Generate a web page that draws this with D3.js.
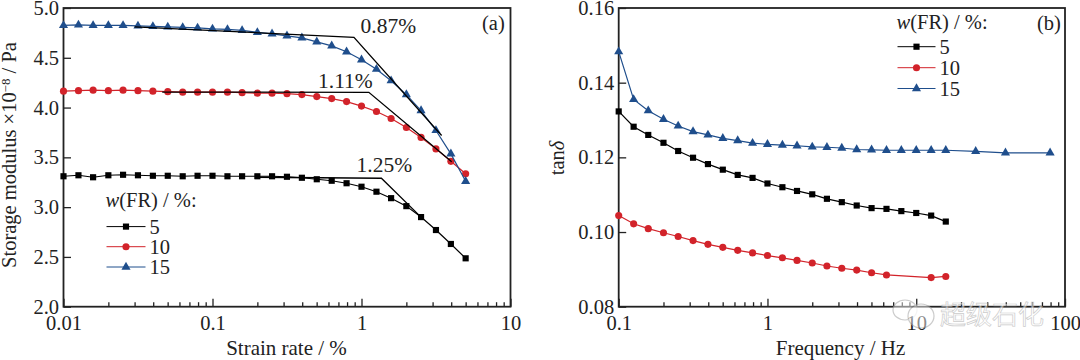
<!DOCTYPE html>
<html>
<head>
<meta charset="utf-8">
<script src="https://cdn.jsdelivr.net/npm/d3@7"></script>
<style>
    html, body { margin: 0; padding: 0; background: #fff; }
    svg { display: block; }
    text { font-family: "Liberation Serif", serif; fill: #222; }
</style>
</head>
<body>
<div id="chart"></div>
<script>
// (a) strain sweep, 28 points
var strain = [0.01, 0.0126, 0.0158, 0.02, 0.0251, 0.0316, 0.0398, 0.0501, 0.0631, 0.0794,
    0.1, 0.126, 0.158, 0.2, 0.251, 0.316, 0.398, 0.501, 0.631, 0.794,
    1, 1.26, 1.58, 2, 2.51, 3.16, 3.98, 5];
var modulus5 = [3.31, 3.32, 3.30, 3.32, 3.325, 3.32, 3.315, 3.315, 3.31, 3.315,
    3.315, 3.31, 3.31, 3.31, 3.31, 3.305, 3.295, 3.28, 3.265, 3.24,
    3.205, 3.155, 3.09, 3.01, 2.90, 2.77, 2.63, 2.486];
var modulus10 = [4.165, 4.17, 4.175, 4.17, 4.175, 4.17, 4.165, 4.16, 4.155, 4.155,
    4.155, 4.155, 4.15, 4.145, 4.145, 4.14, 4.13, 4.11, 4.09, 4.06,
    4.015, 3.96, 3.89, 3.80, 3.70, 3.585, 3.46, 3.335];
var modulus15 = [4.825, 4.83, 4.825, 4.825, 4.825, 4.82, 4.815, 4.81, 4.805, 4.80,
    4.79, 4.785, 4.775, 4.755, 4.74, 4.72, 4.70, 4.66, 4.62, 4.56,
    4.48, 4.385, 4.27, 4.13, 3.97, 3.77, 3.535, 3.26];

// black tangent lines, [strain, modulus]
var tangent087 = [[0.03, 4.81], [0.89, 4.705], [3.45, 3.72]];
var tangent111 = [[0.046, 4.155], [1.12, 4.153], [4.03, 3.456]];
var tangent125 = [[0.2, 3.30], [1.36, 3.29], [2.51, 2.90]];

// (b) frequency sweep
var freq = [0.1, 0.126, 0.158, 0.2, 0.251, 0.316, 0.398, 0.501, 0.631, 0.794,
    1, 1.26, 1.58, 2, 2.51, 3.16, 3.98, 5.01, 6.31, 7.94,
    10, 12.6, 15.8];
var tan5 = [0.1323, 0.1282, 0.1260, 0.1239, 0.1217, 0.1199, 0.1182, 0.1167, 0.1153, 0.1145,
    0.1130, 0.1120, 0.1110, 0.1101, 0.1089, 0.1080, 0.1071, 0.1064, 0.1062, 0.1056,
    0.1051, 0.1044, 0.1028];
var freq10 = [0.1, 0.126, 0.158, 0.2, 0.251, 0.316, 0.398, 0.501, 0.631, 0.794,
    1, 1.26, 1.58, 2, 2.51, 3.16, 3.98, 5.01, 6.31, 12.6, 15.8];
var tan10 = [0.1044, 0.1022, 0.1009, 0.0998, 0.0988, 0.0977, 0.0967, 0.0959, 0.0951, 0.0944,
    0.0937, 0.0931, 0.0924, 0.0917, 0.0909, 0.0903, 0.0898, 0.0891, 0.0885, 0.0878, 0.0881];
var freq15 = [0.1, 0.126, 0.158, 0.2, 0.251, 0.316, 0.398, 0.501, 0.631, 0.794,
    1, 1.26, 1.58, 2, 2.51, 3.16, 3.98, 5.01, 6.31, 7.94,
    10, 12.6, 15.8, 25.1, 39.8, 79.4];
var tan15 = [0.1483, 0.1355, 0.1325, 0.1302, 0.1284, 0.1269, 0.1260, 0.1251, 0.1245, 0.1238,
    0.1235, 0.1233, 0.1231, 0.1228, 0.1227, 0.1225, 0.1221, 0.1220, 0.1219, 0.1219,
    0.1219, 0.1219, 0.1219, 0.1216, 0.1212, 0.1212];

// ticks
var strainTicks = [0.01, 0.1, 1, 10];
var strainMinor = [0.02, 0.03, 0.04, 0.05, 0.06, 0.07, 0.08, 0.09,
    0.2, 0.3, 0.4, 0.5, 0.6, 0.7, 0.8, 0.9,
    2, 3, 4, 5, 6, 7, 8, 9];
var modulusTicks = [2, 2.5, 3, 3.5, 4, 4.5, 5];
var freqTicks = [0.1, 1, 10, 100];
var freqMinor = [0.2, 0.3, 0.4, 0.5, 0.6, 0.7, 0.8, 0.9,
    2, 3, 4, 5, 6, 7, 8, 9,
    20, 30, 40, 50, 60, 70, 80, 90];
var tanTicks = [0.08, 0.10, 0.12, 0.14, 0.16];

var legendLabels = ["5", "10", "15"];
var colors = ["#000000", "#d2232a", "#1f4e8c"];
var shapes = [d3.symbolSquare, d3.symbolCircle, d3.symbolTriangle];
var sizes = [38, 40, 36];

var svg = d3.select("#chart").append("svg")
    .attr("width", 1080)
    .attr("height", 360);

var top_ = 8, bottom = 306.7;
var fontSize = 20.5;

// SVG drawing for one panel: frame, axes, returns scales
function drawFrame(left, right, xDomain, yDomain, xTicks, xMinor, yTicks, yFormat) {
    var x = d3.scaleLog().domain(xDomain).range([left, right]);
    var y = d3.scaleLinear().domain(yDomain).range([bottom, top_]);

    svg.append("rect")
        .attr("x", left)
        .attr("y", top_)
        .attr("width", right - left)
        .attr("height", bottom - top_)
        .attr("fill", "none")
        .attr("stroke", "#222")
        .attr("stroke-width", 1.8);

    var xAxis = svg.append("g")
        .attr("transform", "translate(0," + bottom + ")")
        .call(d3.axisBottom(x).tickValues(xTicks).tickSize(-8).tickPadding(8.5)
            .tickFormat(function (d) { return String(d); }));
    var xAxisMinor = svg.append("g")
        .attr("transform", "translate(0," + bottom + ")")
        .call(d3.axisBottom(x).tickValues(xMinor).tickSize(-4.5).tickFormat(""));
    var yAxis = svg.append("g")
        .attr("transform", "translate(" + left + ",0)")
        .call(d3.axisLeft(y).tickValues(yTicks).tickSize(-7.5).tickPadding(4.5)
            .tickFormat(d3.format(yFormat)));

    [xAxis, xAxisMinor, yAxis].forEach(function (g) {
        g.select(".domain").remove();
        g.selectAll("line").attr("stroke", "#222").attr("stroke-width", 1.3);
        g.selectAll("text").style("font-family", '"Liberation Serif", serif')
            .style("font-size", fontSize + "px").attr("fill", "#222");
    });

    return { x: x, y: y };
}

function drawSeries(scales, xs, ys, i) {
    var points = xs.map(function (d, k) { return [d, ys[k]]; });
    var line = d3.line()
        .x(function (d) { return scales.x(d[0]); })
        .y(function (d) { return scales.y(d[1]); });

    svg.append("path")
        .datum(points)
        .attr("d", line)
        .attr("fill", "none")
        .attr("stroke", colors[i])
        .attr("stroke-width", 1.2);

    svg.append("g").selectAll("path")
        .data(points)
        .enter().append("path")
        .attr("d", d3.symbol().type(shapes[i]).size(sizes[i]))
        .attr("transform", function (d) {
            return "translate(" + scales.x(d[0]) + "," + scales.y(d[1]) + ")";
        })
        .attr("fill", colors[i]);
}

function drawTangent(scales, pts) {
    var line = d3.line()
        .x(function (d) { return scales.x(d[0]); })
        .y(function (d) { return scales.y(d[1]); });
    svg.append("path")
        .datum(pts)
        .attr("d", line)
        .attr("fill", "none")
        .attr("stroke", "#000")
        .attr("stroke-width", 1.3);
}

function addText(str, px, py, size) {
    return svg.append("text")
        .attr("x", px)
        .attr("y", py)
        .style("font-size", size + "px")
        .text(str);
}

function drawLegend(px, titleY, rowY, lineW) {
    var title = addText("", px, titleY, fontSize);
    title.append("tspan").style("font-style", "italic").text("w");
    title.append("tspan").text("(FR) / %:");

    legendLabels.forEach(function (label, i) {
        svg.append("line")
            .attr("x1", px + 1)
            .attr("x2", px + 1 + lineW)
            .attr("y1", rowY[i])
            .attr("y2", rowY[i])
            .attr("stroke", colors[i])
            .attr("stroke-width", 1);
        svg.append("path")
            .attr("d", d3.symbol().type(shapes[i]).size(sizes[i])())
            .attr("transform", "translate(" + (px + 1 + lineW / 2) + "," + rowY[i] + ")")
            .attr("fill", colors[i]);
        addText(label, px + lineW + 5, rowY[i] + 7, fontSize);
    });
}

// panel (a)
var a = drawFrame(63.5, 510.5, [0.01, 10], [2, 5], strainTicks, strainMinor, modulusTicks, ".1f");
drawSeries(a, strain, modulus5, 0);
drawSeries(a, strain, modulus10, 1);
drawSeries(a, strain, modulus15, 2);
drawTangent(a, tangent087);
drawTangent(a, tangent111);
drawTangent(a, tangent125);

addText("0.87%", 360.5, 33, 21.5);
addText("1.11%", 318, 88, 21.5);
addText("1.25%", 356.5, 172, 21.5);
addText("(a)", 482, 30, fontSize);
drawLegend(105.5, 207, [226.6, 246.7, 267], 39);
addText("Strain rate / %", 286.5, 355, 21).attr("text-anchor", "middle");

var yLabelA = svg.append("text")
    .attr("transform", "translate(16,155) rotate(-90)")
    .attr("text-anchor", "middle")
    .style("font-size", "20.5px");
yLabelA.append("tspan").text("Storage modulus ×10");
yLabelA.append("tspan").attr("dy", -6).style("font-size", "13px").text("−8");
yLabelA.append("tspan").attr("dy", 6).text(" / Pa");

// panel (b)
var b = drawFrame(618.7, 1065, [0.1, 100], [0.08, 0.16], freqTicks, freqMinor, tanTicks, ".2f");
drawSeries(b, freq, tan5, 0);
drawSeries(b, freq10, tan10, 1);
drawSeries(b, freq15, tan15, 2);

addText("(b)", 1037, 30, fontSize);
drawLegend(896.5, 29, [46.7, 67.7, 88.5], 38);
addText("Frequency / Hz", 840.5, 355, 21).attr("text-anchor", "middle");

var yLabelB = svg.append("text")
    .attr("transform", "translate(564,158) rotate(-90)")
    .attr("text-anchor", "middle")
    .style("font-size", "20.5px");
yLabelB.append("tspan").text("tan");
yLabelB.append("tspan").style("font-style", "italic").text("δ");

// watermark
var mark = svg.append("g").attr("opacity", 0.6);
[[905, 310, 12, 10], [921, 316, 13, 12]].forEach(function (e) {
    mark.append("ellipse")
        .attr("cx", e[0])
        .attr("cy", e[1])
        .attr("rx", e[2])
        .attr("ry", e[3])
        .attr("fill", "#fff")
        .attr("fill-opacity", 0.8)
        .attr("stroke", "#aaa")
        .attr("stroke-width", 1.2);
});
mark.append("text")
    .attr("x", 940)
    .attr("y", 324)
    .style("font-family", '"Noto Sans CJK SC", sans-serif')
    .style("font-size", "26px")
    .style("fill", "#fff")
    .attr("stroke", "#aaa")
    .attr("stroke-width", 0.7)
    .text("超级石化");
</script>
</body>
</html>
